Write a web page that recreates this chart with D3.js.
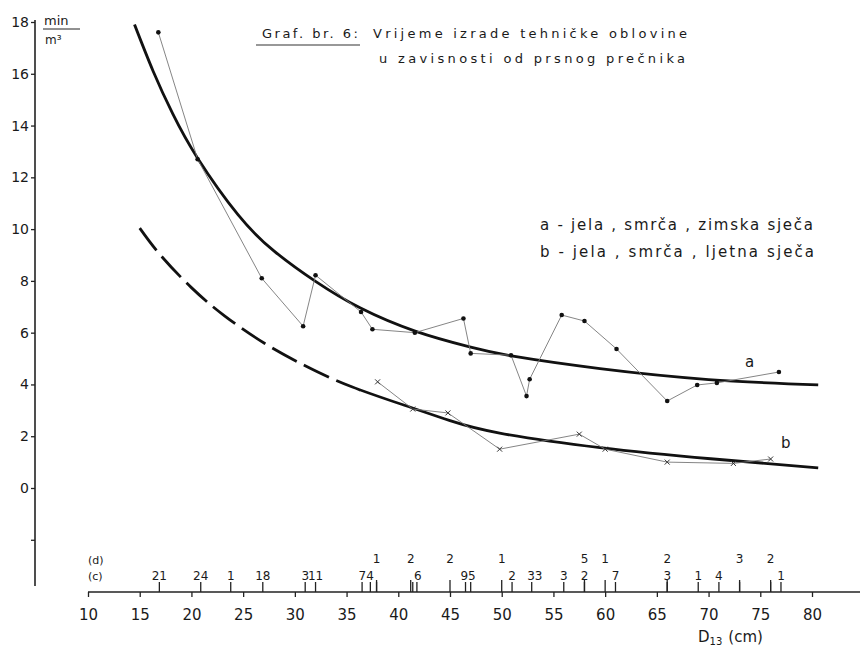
<!DOCTYPE html>
<html>
<head>
<meta charset="utf-8">
<script src="https://cdn.jsdelivr.net/npm/d3@7"></script>
<style>
  html, body { margin: 0; padding: 0; background: #fff; }
  svg { display: block; }
  text { font-family: "DejaVu Sans", "Noto Sans", sans-serif; fill: #1a1a1a; }
</style>
</head>
<body>
<svg id="chart" width="860" height="646"></svg>
<script>
// ---- data ----
const xTicks = [10, 15, 20, 25, 30, 35, 40, 45, 50, 55, 60, 65, 70, 75, 80];
const yTicks = [-2, 0, 2, 4, 6, 8, 10, 12, 14, 16, 18];

// series a: jela, smrča, zimska sječa (measured points)
const aD = [16.8, 20.6, 26.8, 30.8, 32.0, 36.4, 37.5, 41.6, 46.3, 47.0, 50.9, 52.4, 52.7, 55.8, 58.0, 61.1, 66.0, 68.9, 70.8, 76.8];
const aT = [17.6, 12.7, 8.1, 6.25, 8.22, 6.8, 6.13, 6.0, 6.55, 5.2, 5.13, 3.55, 4.2, 6.68, 6.45, 5.37, 3.36, 3.98, 4.06, 4.48];

// series b: jela, smrča, ljetna sječa (measured points)
const bD = [38.0, 41.4, 44.8, 49.8, 57.5, 60.0, 66.0, 72.4, 76.0];
const bT = [4.1, 3.05, 2.9, 1.5, 2.08, 1.5, 1.0, 0.95, 1.12];

// fitted curve a
const curveAD = [14.5, 16.3, 18.2, 20.6, 24.5, 28.0, 32.0, 36.3, 41.7, 46.9, 51.1, 59.5, 70.0, 80.6];
const curveAT = [17.9, 16.1, 14.45, 12.74, 10.56, 9.15, 7.98, 6.96, 6.05, 5.45, 5.09, 4.61, 4.19, 3.98];

// fitted curve b
const curveBD = [15.0, 17.0, 20.0, 23.2, 27.1, 31.0, 35.5, 41.3, 45.0, 49.8, 59.5, 70.2, 80.6];
const curveBT = [10.04, 9.0, 7.74, 6.65, 5.58, 4.72, 3.91, 3.1, 2.6, 2.12, 1.56, 1.13, 0.78];
const bDashEnd = 36.3;

// frequency rows (c) and (d)
const cTickD = [16.9, 20.9, 23.8, 26.9, 31.0, 32.0, 36.5, 37.3, 37.9, 41.4, 41.8, 46.5, 47.0, 51.0, 52.9, 56.0, 58.0, 61.0, 66.0, 69.0, 71.0, 73.0, 76.0, 77.0];
const cLabelD = [16.9, 20.9, 23.8, 26.9, 31.0, 32.0, 36.9, 41.9, 46.75, 51.0, 53.2, 56.0, 58.0, 61.0, 66.0, 69.0, 71.0, 77.0];
const cLabelN = ["21", "24", "1", "18", "3", "11", "74", "6", "95", "2", "33", "3", "2", "7", "3", "1", "4", "1"];
const dD = [37.9, 41.2, 45.0, 50.0, 58.0, 60.0, 66.0, 73.0, 76.0];
const dN = ["1", "2", "2", "1", "5", "1", "2", "3", "2"];

// ---- scales ----
const x = d3.scaleLinear().domain([10, 80]).range([88, 812]);
const y = d3.scaleLinear().domain([0, 18]).range([488, 22]);
const axisY = 592;
const condensed = "DejaVu Sans Condensed, DejaVu Sans, sans-serif";

const svg = d3.select("#chart");

// ---- y axis ----
const gy = svg.append("g").attr("transform", "translate(35,0)")
  .call(d3.axisLeft(y).tickValues(yTicks).tickSize(4).tickPadding(2)
    .tickFormat(d => d < 0 ? "" : d));
gy.select(".domain").remove();
gy.selectAll(".tick line").attr("stroke", "#222").attr("stroke-width", 1.3);
gy.selectAll(".tick text").attr("font-size", 14).attr("fill", "#1a1a1a")
  .attr("font-family", condensed);
svg.append("line").attr("x1", 35).attr("x2", 35).attr("y1", 20).attr("y2", 586)
  .attr("stroke", "#222").attr("stroke-width", 1.6);

// unit label
svg.append("text").attr("x", 44).attr("y", 25).attr("font-size", 13).text("min");
svg.append("line").attr("x1", 43).attr("x2", 80).attr("y1", 29).attr("y2", 29)
  .attr("stroke", "#222").attr("stroke-width", 1);
svg.append("text").attr("x", 45).attr("y", 44).attr("font-size", 12).text("m³");

// ---- x axis ----
const gx = svg.append("g").attr("transform", `translate(0,${axisY})`)
  .call(d3.axisBottom(x).tickValues(xTicks).tickSize(5).tickPadding(12));
gx.select(".domain").remove();
gx.selectAll(".tick line").attr("stroke", "#222").attr("stroke-width", 1.3);
gx.selectAll(".tick text").attr("font-size", 15).attr("fill", "#1a1a1a")
  .attr("font-family", condensed);
svg.append("line").attr("x1", 88).attr("x2", 860).attr("y1", axisY).attr("y2", axisY)
  .attr("stroke", "#222").attr("stroke-width", 1.6);

// x axis title
const xt = svg.append("text").attr("x", 698).attr("y", 642).attr("font-size", 15);
xt.append("tspan").text("D");
xt.append("tspan").attr("font-size", 10).attr("dy", 3).text("13");
xt.append("tspan").attr("dy", -3).attr("dx", 6).text("(cm)");

// frequency rows
svg.append("text").attr("x", 88).attr("y", 564).attr("font-size", 11).text("(d)");
svg.append("text").attr("x", 88).attr("y", 580).attr("font-size", 11).text("(c)");
svg.append("g").selectAll("line").data(cTickD).join("line")
  .attr("x1", d => x(d)).attr("x2", d => x(d))
  .attr("y1", axisY).attr("y2", axisY - 10)
  .attr("stroke", "#222").attr("stroke-width", 1.3);
const cIdx = d3.range(cLabelD.length);
svg.append("g").selectAll("text").data(cIdx).join("text")
  .attr("x", i => x(cLabelD[i])).attr("y", axisY - 12)
  .attr("text-anchor", "middle").attr("font-size", 12)
  .attr("font-family", condensed)
  .text(i => cLabelN[i]);
const dIdx = d3.range(dD.length);
svg.append("g").selectAll("line").data(dIdx).join("line")
  .attr("x1", i => x(dD[i])).attr("x2", i => x(dD[i]))
  .attr("y1", axisY).attr("y2", axisY - 12)
  .attr("stroke", "#222").attr("stroke-width", 1.3);
svg.append("g").selectAll("text").data(dIdx).join("text")
  .attr("x", i => x(dD[i])).attr("y", 563)
  .attr("text-anchor", "middle").attr("font-size", 12)
  .attr("font-family", condensed)
  .text(i => dN[i]);

// ---- fitted curves ----
const line = d3.line().x(d => x(d[0])).y(d => y(d[1])).curve(d3.curveNatural);
const curveA = curveAD.map((d, i) => [d, curveAT[i]]);
const curveB = curveBD.map((d, i) => [d, curveBT[i]]);

svg.append("path").attr("d", line(curveA)).attr("fill", "none")
  .attr("stroke", "#111").attr("stroke-width", 2.8);

const defs = svg.append("defs");
defs.append("clipPath").attr("id", "clipDash").append("rect")
  .attr("x", 0).attr("y", 0).attr("width", x(bDashEnd)).attr("height", 646);
defs.append("clipPath").attr("id", "clipSolid").append("rect")
  .attr("x", x(bDashEnd)).attr("y", 0).attr("width", 860).attr("height", 646);

svg.append("path").attr("d", line(curveB)).attr("fill", "none")
  .attr("clip-path", "url(#clipDash)")
  .attr("stroke", "#111").attr("stroke-width", 2.8).attr("stroke-dasharray", "28,8");
svg.append("path").attr("d", line(curveB)).attr("fill", "none")
  .attr("clip-path", "url(#clipSolid)")
  .attr("stroke", "#111").attr("stroke-width", 2.8);

// ---- measured series ----
const thin = d3.line().x(d => x(d[0])).y(d => y(d[1]));
const ptsA = aD.map((d, i) => [d, aT[i]]);
const ptsB = bD.map((d, i) => [d, bT[i]]);

svg.append("path").attr("d", thin(ptsA)).attr("fill", "none")
  .attr("stroke", "#777").attr("stroke-width", 0.9);
svg.append("g").selectAll("circle").data(ptsA).join("circle")
  .attr("cx", d => x(d[0])).attr("cy", d => y(d[1])).attr("r", 2.3).attr("fill", "#111");

svg.append("path").attr("d", thin(ptsB)).attr("fill", "none")
  .attr("stroke", "#777").attr("stroke-width", 0.9);
svg.append("g").selectAll("path").data(ptsB).join("path")
  .attr("d", d => {
    const cx = x(d[0]), cy = y(d[1]), s = 2.5;
    return `M${cx - s},${cy - s}L${cx + s},${cy + s}M${cx - s},${cy + s}L${cx + s},${cy - s}`;
  })
  .attr("stroke", "#333").attr("stroke-width", 1);

// curve labels
svg.append("text").attr("x", 745).attr("y", 367).attr("font-size", 15).text("a");
svg.append("text").attr("x", 781).attr("y", 448).attr("font-size", 15).text("b");

// ---- title ----
svg.append("text").attr("x", 262).attr("y", 38).attr("font-size", 13)
  .attr("textLength", 96).attr("lengthAdjust", "spacing").text("Graf. br. 6:");
svg.append("line").attr("x1", 256).attr("x2", 360).attr("y1", 45).attr("y2", 45)
  .attr("stroke", "#333").attr("stroke-width", 1.2);
svg.append("text").attr("x", 373).attr("y", 38).attr("font-size", 13)
  .attr("textLength", 314).attr("lengthAdjust", "spacing").text("Vrijeme izrade tehničke oblovine");
svg.append("text").attr("x", 379).attr("y", 63).attr("font-size", 13)
  .attr("textLength", 306).attr("lengthAdjust", "spacing").text("u zavisnosti od prsnog prečnika");

// ---- legend ----
svg.append("text").attr("x", 540).attr("y", 230).attr("font-size", 15)
  .attr("textLength", 273).attr("lengthAdjust", "spacing").text("a - jela , smrča , zimska  sječa");
svg.append("text").attr("x", 540).attr("y", 257).attr("font-size", 15)
  .attr("textLength", 274).attr("lengthAdjust", "spacing").text("b - jela , smrča , ljetna   sječa");
</script>
</body>
</html>
